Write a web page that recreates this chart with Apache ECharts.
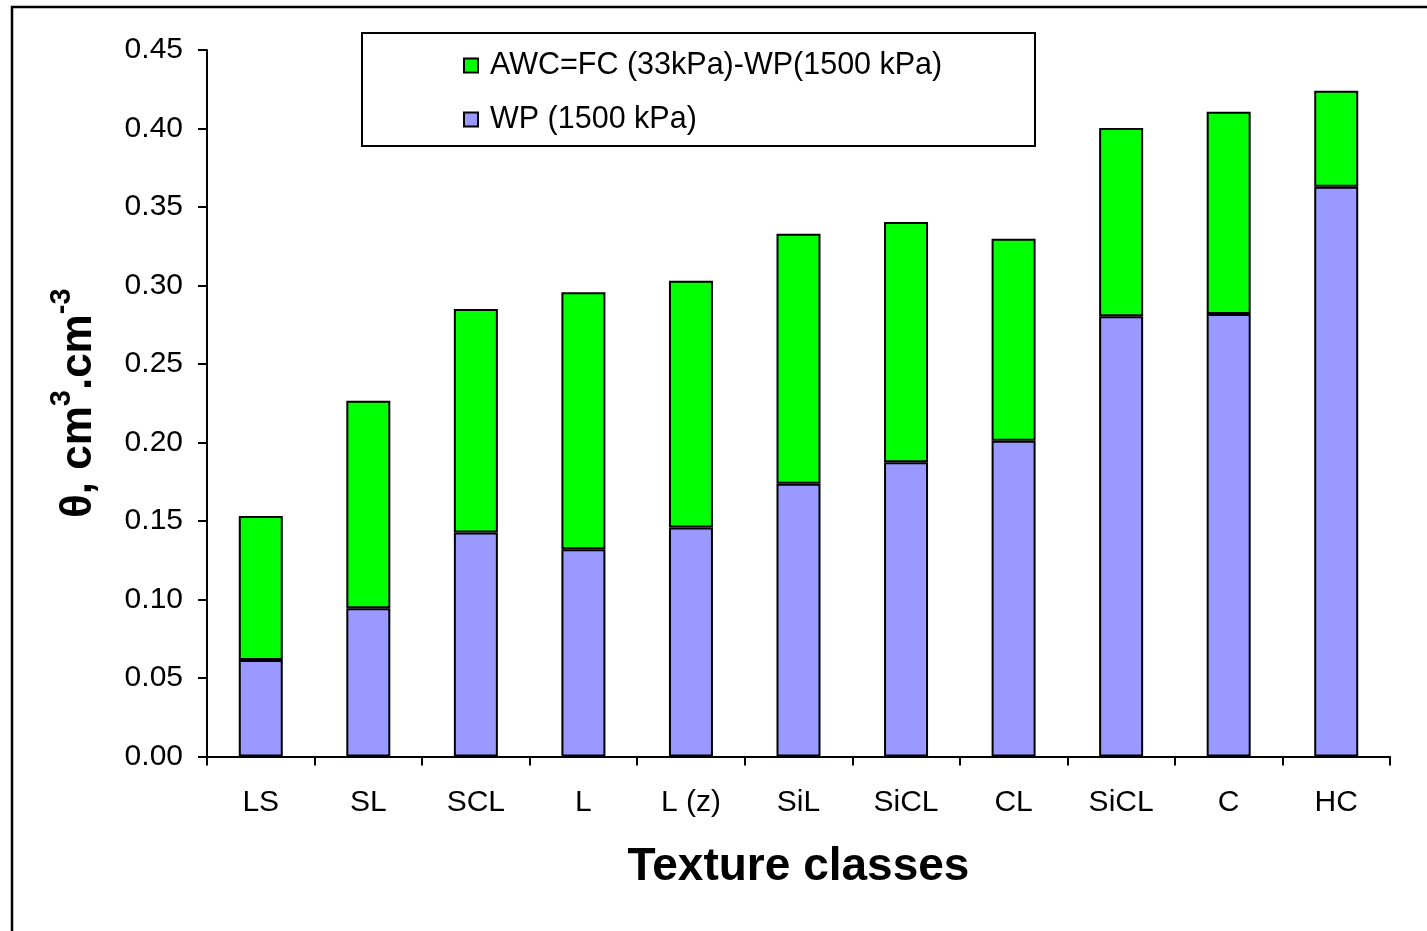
<!DOCTYPE html>
<html>
<head>
<meta charset="utf-8">
<title>Water retention by soil texture class</title>
<script src="https://cdn.jsdelivr.net/npm/echarts@6/dist/echarts.min.js"></script>
<style>
  html, body { margin: 0; padding: 0; background: #fff; }
  #chart { width: 1427px; height: 931px; }
</style>
</head>
<body>
<div id="chart"></div>
<script>
// Soil texture classes along the x axis
const textureClasses = ['LS', 'SL', 'SCL', 'L', 'L (z)', 'SiL', 'SiCL', 'CL', 'SiCL', 'C', 'HC'];

// Wilting point water content (1500 kPa), cm3/cm3
const wpValues = [0.0615, 0.0944, 0.1426, 0.1320, 0.1458, 0.1738, 0.1874, 0.2011, 0.2804, 0.2818, 0.3629];

// Available water capacity = FC (33 kPa) - WP (1500 kPa), cm3/cm3
const awcValues = [0.0917, 0.1322, 0.1424, 0.1637, 0.1573, 0.1592, 0.1530, 0.1287, 0.1199, 0.1289, 0.0612];

const seriesNames = ['AWC=FC (33kPa)-WP(1500 kPa)', 'WP (1500 kPa)'];

const FONT = '"Liberation Sans", Arial, sans-serif';

const chart = echarts.init(document.getElementById('chart'), null, { renderer: 'canvas' });

chart.setOption({
  backgroundColor: '#ffffff',
  animation: false,
  textStyle: { fontFamily: FONT, color: '#000' },
  grid: {
    left: 207,
    right: 37,
    top: 50,
    bottom: 174.5,
    containLabel: false,
    outerBoundsMode: 'none'
  },
  legend: {
    data: seriesNames,
    orient: 'vertical',
    left: 458,
    top: 45,
    itemWidth: 14,
    itemHeight: 14,
    itemGap: 23,
    icon: 'rect',
    selectedMode: false,
    textStyle: { fontFamily: FONT, fontSize: 30.5, lineHeight: 31, color: '#000', padding: [0, 0, 0, 7] }
  },
  xAxis: {
    type: 'category',
    data: textureClasses,
    boundaryGap: true,
    axisLine: { lineStyle: { color: '#000', width: 2 } },
    axisTick: { show: true, interval: 0, length: 9, inside: false, lineStyle: { color: '#000', width: 2 } },
    axisLabel: { interval: 0, margin: 31, fontSize: 30, fontFamily: FONT, color: '#000' },
    name: 'Texture classes',
    nameLocation: 'middle',
    nameGap: 88,
    nameTextStyle: { fontSize: 46, fontWeight: 'bold', fontFamily: FONT, color: '#000' }
  },
  yAxis: {
    type: 'value',
    min: 0,
    max: 0.45,
    interval: 0.05,
    splitLine: { show: false },
    axisLine: { show: true, lineStyle: { color: '#000', width: 2 } },
    axisTick: { show: true, length: 9, inside: false, lineStyle: { color: '#000', width: 2 } },
    axisLabel: {
      margin: 24,
      fontSize: 30,
      fontFamily: FONT,
      color: '#000',
      formatter: v => v.toFixed(2)
    },
    name: '{m|θ, cm}{s|3}{m|.cm}{s|-3}',
    nameLocation: 'middle',
    nameRotate: 90,
    nameGap: 106,
    nameTextStyle: {
      fontFamily: FONT,
      color: '#000',
      rich: {
        m: { fontSize: 44, fontWeight: 'bold', fontFamily: FONT, color: '#000', verticalAlign: 'bottom', lineHeight: 54 },
        s: { fontSize: 29, fontWeight: 'bold', fontFamily: FONT, color: '#000', verticalAlign: 'top', lineHeight: 54 }
      }
    }
  },
  series: [
    {
      name: seriesNames[1],
      type: 'bar',
      stack: 'water',
      barWidth: 44,
      data: wpValues,
      itemStyle: { color: '#9999FF', borderColor: '#000', borderWidth: 2 }
    },
    {
      name: seriesNames[0],
      type: 'bar',
      stack: 'water',
      barWidth: 44,
      data: awcValues,
      itemStyle: { color: '#00FF00', borderColor: '#000', borderWidth: 2 }
    }
  ],
  graphic: [
    // Outer chart-area frame (only its top and left edges fall inside the canvas)
    {
      type: 'rect',
      silent: true,
      z: -10,
      shape: { x: 12, y: 7, width: 1500, height: 1000 },
      style: { fill: null, stroke: '#000', lineWidth: 2.5 }
    },
    // Legend frame
    {
      type: 'rect',
      silent: true,
      z: -5,
      shape: { x: 362, y: 33, width: 673, height: 113 },
      style: { fill: '#fff', stroke: '#000', lineWidth: 2 }
    }
  ]
});
</script>
</body>
</html>
